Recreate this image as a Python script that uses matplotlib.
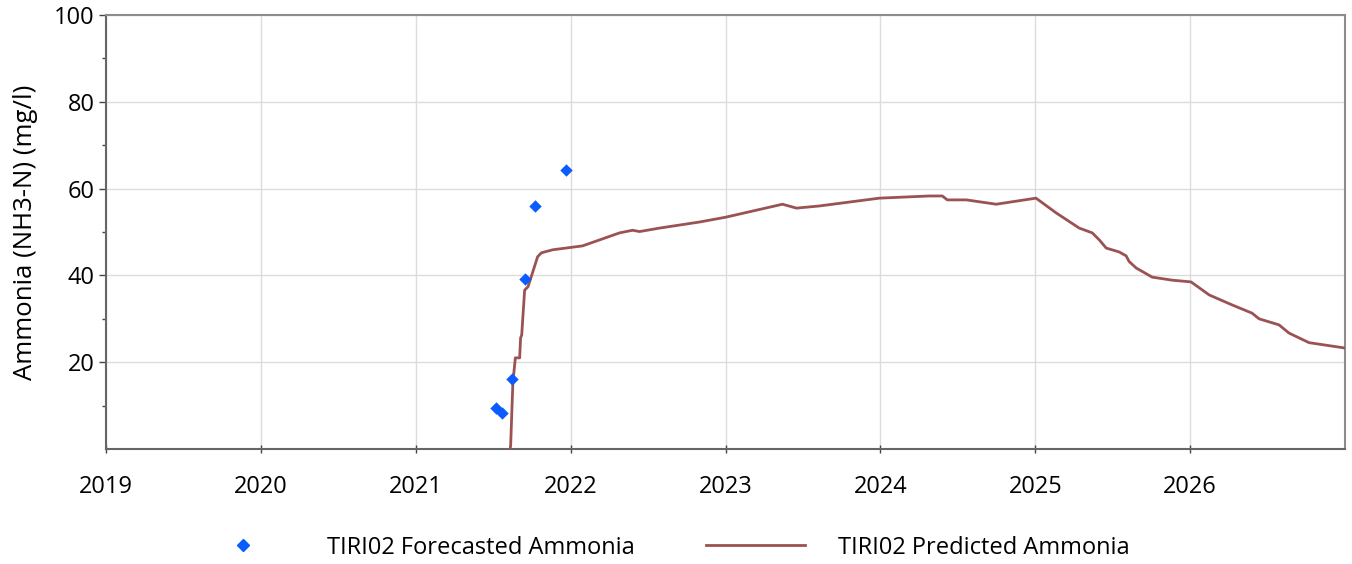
import matplotlib
matplotlib.use("Agg")
import matplotlib.pyplot as plt
from matplotlib.lines import Line2D

# Forecasted (points)
forecast_x = [2021.516, 2021.555, 2021.619, 2021.703, 2021.768, 2021.968]
forecast_y = [9.4, 8.3, 16.1, 39.2, 56.0, 64.3]

# Predicted (line)
pred_x = [2021.610, 2021.613, 2021.627, 2021.643, 2021.671, 2021.677, 2021.684,
          2021.703, 2021.725, 2021.787, 2021.811, 2021.884, 2022.077, 2022.316,
          2022.400, 2022.445, 2022.574, 2022.832, 2023.000, 2023.368, 2023.458,
          2023.606, 2023.800, 2023.994, 2024.316, 2024.400, 2024.432, 2024.555,
          2024.748, 2025.005, 2025.135, 2025.284, 2025.368, 2025.413, 2025.458,
          2025.542, 2025.587, 2025.606, 2025.652, 2025.755, 2025.884, 2026.006,
          2026.123, 2026.271, 2026.400, 2026.445, 2026.574, 2026.639, 2026.768,
          2026.994]
pred_y = [0.0, 1.0, 15.2, 21.0, 21.0, 25.6, 26.2,
          36.6, 37.4, 44.3, 45.2, 45.9, 46.8, 49.8,
          50.4, 50.1, 50.9, 52.3, 53.4, 56.4, 55.5,
          56.0, 56.9, 57.8, 58.3, 58.3, 57.4, 57.4,
          56.4, 57.8, 54.4, 50.9, 49.8, 48.2, 46.3,
          45.4, 44.5, 43.2, 41.7, 39.6, 38.9, 38.5,
          35.5, 33.2, 31.3, 30.0, 28.6, 26.7, 24.5,
          23.3]

year_ticks = [2019, 2020, 2021, 2022, 2023, 2024, 2025, 2026]
y_ticks = [20, 40, 60, 80, 100]
y_minor = [10, 30, 50, 70, 90]
legend_labels = ['TIRI02 Forecasted Ammonia', 'TIRI02 Predicted Ammonia']

plt.rcParams['font.family'] = ['Open Sans', 'DejaVu Sans']

W, H = 1352, 564
fig = plt.figure(figsize=(W/100, H/100), dpi=100)
ax = fig.add_axes([106/W, 1 - 449/H, (1345-106)/W, (449-15)/H])

line_color = '#9b5252'
pt_color = '#0a5cff'

ax.plot(pred_x, pred_y, color=line_color, lw=2, zorder=3)
ax.scatter(forecast_x, forecast_y, marker='D', s=40, color=pt_color, zorder=4, linewidths=0)

ax.set_xlim(2019, 2027)
ax.set_ylim(0, 100)
ax.set_xticks(year_ticks)
ax.set_xticklabels([str(y) for y in year_ticks])
ax.set_yticks(y_ticks)
ax.set_yticks(y_minor, minor=True)

ax.grid(True, which='major', color='#dcdcdc', lw=1)
ax.set_axisbelow(True)

for s in ['top', 'right']:
    ax.spines[s].set_color('#8c8c8c')
    ax.spines[s].set_linewidth(1.5)
for s in ['left', 'bottom']:
    ax.spines[s].set_color('#666666')
    ax.spines[s].set_linewidth(1.5)

ax.tick_params(axis='x', which='major', direction='inout', length=6, width=1,
               color='#444444', pad=16, labelsize=17)
ax.tick_params(axis='y', which='major', direction='out', length=5, width=1,
               color='#444444', pad=3, labelsize=17)
ax.tick_params(axis='y', which='minor', direction='out', length=3, width=1,
               color='#444444')

ax.set_ylabel('Ammonia (NH3-N) (mg/l)', fontsize=18.5, labelpad=12)

# Legend (placed below the plot)
ly = 1 - 548/H
fig.add_artist(Line2D([243/W], [1 - 545/H], marker='D', color=pt_color, ls='none',
                      markersize=6, transform=fig.transFigure))
fig.text(327/W, ly, legend_labels[0], fontsize=17, va='center', ha='left')
fig.add_artist(Line2D([706/W, 805/W], [1 - 545/H, 1 - 545/H], color=line_color, lw=2,
                      transform=fig.transFigure))
fig.text(838/W, ly, legend_labels[1], fontsize=17, va='center', ha='left')

fig.savefig('out.png', dpi=100)
